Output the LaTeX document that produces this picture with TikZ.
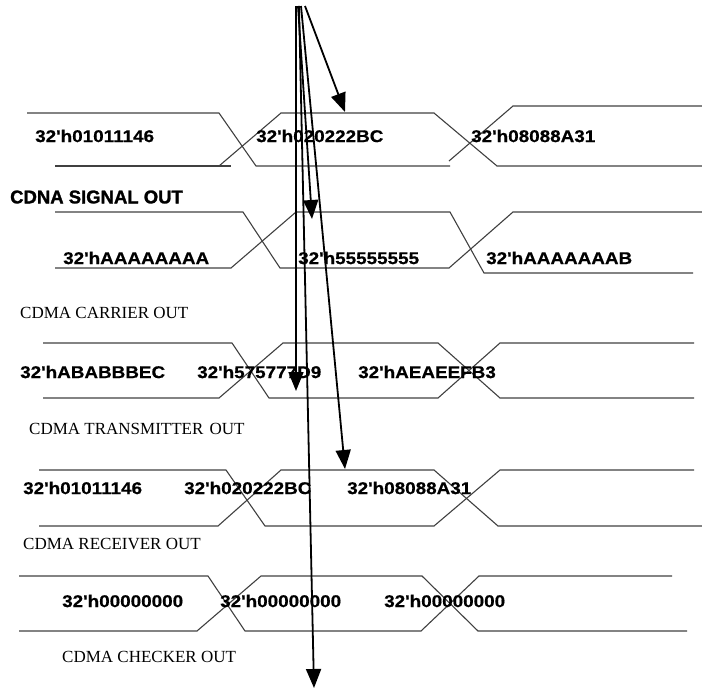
\documentclass[tikz,border=0pt]{standalone}
\usepackage{fontspec}
\setmainfont{Liberation Serif}
\newfontfamily\valfont[FakeStretch=1.11,FakeBold=0.6]{Liberation Sans}
\newfontfamily\headfont[FakeStretch=1.0,FakeBold=1.4]{Liberation Sans}
\usetikzlibrary{arrows.meta}
\tikzset{
  wave/.style={draw=black!75, line width=1.1pt, line join=miter},
  val/.style={anchor=west, inner sep=0pt, font=\valfont\bfseries\fontsize{17}{20}\selectfont},
  sig/.style={anchor=west, inner sep=0pt, font=\fontsize{17}{20}\selectfont},
  sigbold/.style={anchor=west, inner sep=0pt, font=\headfont\bfseries\fontsize{18.5}{20}\selectfont},
  pointer/.style={draw=black, line width=1.8pt, -{Triangle[length=19pt,width=15pt]}}
}
\begin{document}
\begin{tikzpicture}[x=1pt,y=-1pt]
\useasboundingbox (0,0) rectangle (702,689);
% Row 1: CDNA signal
\draw[wave] (27,113)--(219,113)--(256,166)--(450,166);
\draw[wave] (55,166)--(231,166);
\draw[wave] (219,166)--(281,113)--(434,113)--(497,166)--(702,166);
\draw[wave] (449,161)--(513,106)--(702,106);
\node[val] (v11) at (35,136) {32'h01011146};
\node[val] (v12) at (256,136) {32'h020222BC};
\node[val] (v13) at (471,136) {32'h08088A31};
\node[sigbold] (l1) at (10,197) {CDNA SIGNAL OUT};
% Row 2: carrier
\draw[wave] (55,212)--(243,212)--(280,268)--(449,268)--(513,212)--(702,212);
\draw[wave] (55,268)--(231,268)--(296,212)--(450,212)--(484,273)--(693,273);
\node[val] (v21) at (63,258) {32'hAAAAAAAA};
\node[val] (v22) at (298,258) {32'h55555555};
\node[val] (v23) at (486,258) {32'hAAAAAAAB};
\node[sig] (l2) at (20,313) {CDMA CARRIER OUT};
% Row 3: transmitter
\draw[wave] (43,343)--(232,343)--(269,398)--(438,398)--(500,343)--(694,343);
\draw[wave] (43,398)--(219,398)--(283,343)--(438,343)--(500,398)--(694,398);
\node[val] (v31) at (20,372) {32'hABABBBEC};
\node[val] (v32) at (197,372) {32'h575777D9};
\node[val] (v33) at (358,372) {32'hAEAEEFB3};
\node[sig] (l3) at (29,429) {CDMA TRANSMITTER\hspace{2pt} OUT};
% Row 4: receiver
\draw[wave] (39,470)--(226,470)--(265,526)--(434,526)--(500,470)--(694,470);
\draw[wave] (39,526)--(218,526)--(281,470)--(434,470)--(498,526)--(702,526);
\node[val] (v41) at (23,488) {32'h01011146};
\node[val] (v42) at (184,488) {32'h020222BC};
\node[val] (v43) at (347,488) {32'h08088A31};
\node[sig] (l4) at (23,544) {CDMA RECEIVER OUT};
% Row 5: checker
\draw[wave] (19,576)--(208,576)--(245,631)--(421,631)--(479,576)--(672,576);
\draw[wave] (19,631)--(197,631)--(261,576)--(422,576)--(478,631)--(687,631);
\node[val] (v51) at (62,601) {32'h00000000};
\node[val] (v52) at (220,601) {32'h00000000};
\node[val] (v53) at (384,601) {32'h00000000};
\node[sig] (l5) at (62,657) {CDMA CHECKER OUT};
% Arrows
\coordinate (s1) at (305,6);
\coordinate (s2) at (298,6);
\coordinate (s3) at (296,6);
\coordinate (s4) at (301,6);
\coordinate (s5) at (299,6);
\coordinate (e1) at (345,112);
\coordinate (e2) at (312,219);
\coordinate (e3) at (296,391);
\coordinate (e4) at (345,469);
\coordinate (e5) at (314,688);
\draw[pointer] (s1) -- (e1);
\draw[pointer] (s2) -- (e2);
\draw[pointer] (s3) -- (e3);
\draw[pointer] (s4) -- (e4);
\draw[pointer] (s5) -- (e5);
\end{tikzpicture}
\end{document}
